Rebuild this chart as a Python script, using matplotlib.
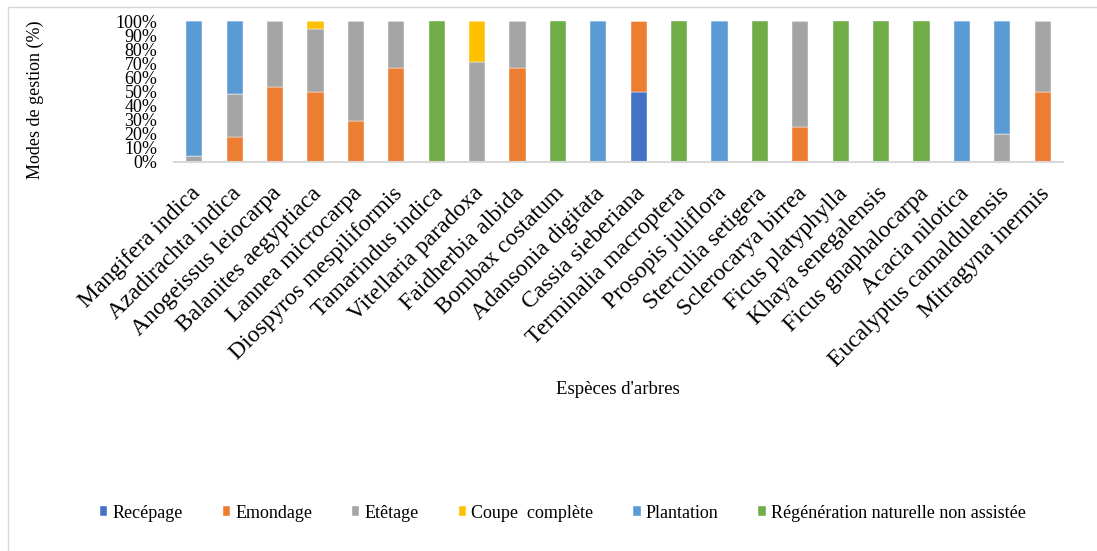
import numpy as np
import matplotlib.pyplot as plt
from matplotlib.patches import Rectangle
import matplotlib.transforms as mtransforms

# Species (x axis)
especes = ['Mangifera indica', 'Azadirachta indica', 'Anogeissus leiocarpa',
           'Balanites aegyptiaca', 'Lannea microcarpa', 'Diospyros mespiliformis',
           'Tamarindus indica', 'Vitellaria paradoxa', 'Faidherbia albida',
           'Bombax costatum', 'Adansonia digitata', 'Cassia sieberiana',
           'Terminalia macroptera', 'Prosopis juliflora', 'Sterculia setigera',
           'Sclerocarya birrea', 'Ficus platyphylla', 'Khaya senegalensis',
           'Ficus gnaphalocarpa', 'Acacia nilotica', 'Eucalyptus camaldulensis',
           'Mitragyna inermis']

# Share of each management mode (%)
recepage = [0, 0, 0, 0, 0, 0, 0, 0, 0, 0, 0, 50, 0, 0, 0, 0, 0, 0, 0, 0, 0, 0]
emondage = [0, 17.5, 53, 49.5, 29, 66.5, 0, 0, 66.5, 0, 0, 50, 0, 0, 0, 24.5, 0, 0, 0, 0, 0, 50]
etetage = [4, 31, 47, 45, 71, 33.5, 0, 71, 33.5, 0, 0, 0, 0, 0, 0, 75.5, 0, 0, 0, 0, 20, 50]
coupe = [0, 0, 0, 5.5, 0, 0, 0, 29, 0, 0, 0, 0, 0, 0, 0, 0, 0, 0, 0, 0, 0, 0]
plantation = [96, 51.5, 0, 0, 0, 0, 0, 0, 0, 0, 100, 0, 0, 100, 0, 0, 0, 0, 0, 100, 80, 0]
regeneration = [0, 0, 0, 0, 0, 0, 100, 0, 0, 100, 0, 0, 100, 0, 100, 0, 100, 100, 100, 0, 0, 0]

series = [('Recépage', recepage, '#4472C4'),
          ('Emondage', emondage, '#ED7D31'),
          ('Etêtage', etetage, '#A5A5A5'),
          ('Coupe  complète', coupe, '#FFC000'),
          ('Plantation', plantation, '#5B9BD5'),
          ('Régénération naturelle non assistée', regeneration, '#70AD47')]

plt.rcParams['font.family'] = ['Liberation Serif', 'DejaVu Serif']

fig = plt.figure(figsize=(10.97, 5.51), dpi=100)
ax = fig.add_axes([174 / 1097, 1 - 162 / 551, 889 / 1097, 141 / 551])

x = np.arange(len(especes))
bottom = np.zeros(len(especes))
for nom, vals, col in series:
    vals = np.array(vals)
    ax.bar(x, vals, 0.4, bottom=bottom, color=col, label=nom,
           edgecolor='white', linewidth=0.3)
    bottom += vals

ax.set_xlim(-0.5, len(especes) - 0.5)
ax.set_ylim(0, 100)
ax.set_yticks(np.arange(0, 101, 10))
ax.set_yticklabels([f'{v}%' for v in range(0, 101, 10)], fontsize=13)
ax.set_xticks(x)
ax.set_xticklabels([])

# rotated species names, placed like Excel does (top-right corner under the bar)
offset = mtransforms.ScaledTranslation(-4 / 100, -21 / 100, fig.dpi_scale_trans)
for xi, nom in zip(x, especes):
    ax.text(xi, 0, nom, rotation=45, ha='right', va='top',
            rotation_mode='anchor', fontsize=17,
            transform=ax.get_xaxis_transform() + offset)

ax.tick_params(axis='both', length=0)
ax.tick_params(axis='y', pad=12)
for s in ['top', 'right', 'left']:
    ax.spines[s].set_visible(False)
ax.spines['bottom'].set_color('#D9D9D9')
ax.spines['bottom'].set_linewidth(1.5)

fig.text(35 / 1097, 1 - 100 / 551, 'Modes de gestion (%)', rotation=90,
         ha='center', va='center', fontsize=13)
fig.text(618 / 1097, 1 - 390 / 551, "Espèces d'arbres", ha='center',
         va='center', fontsize=13.5)

fig.legend(loc='center', bbox_to_anchor=(563 / 1097, 1 - 513 / 551), ncol=6,
           frameon=False, fontsize=13, handlelength=0.4, handleheight=0.4,
           handletextpad=0.3, columnspacing=2.2)

# chart frame
fig.patches.append(Rectangle((8 / 1097, -0.1), 1.2, 1 - 7 / 551 + 0.1,
                             transform=fig.transFigure, fill=False,
                             edgecolor='#D9D9D9', linewidth=1))

fig.savefig('out.png', dpi=100)
